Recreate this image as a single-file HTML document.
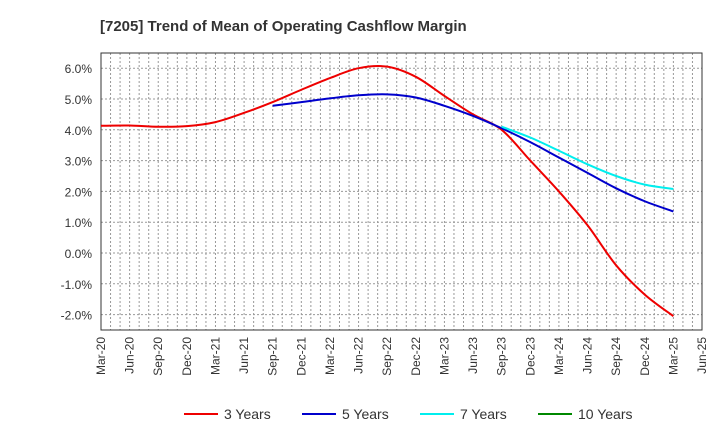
<!DOCTYPE html>
<html><head><meta charset="utf-8"><style>
body{margin:0;background:#fff;font-family:"Liberation Sans",sans-serif}
</style></head><body>
<svg id="c" width="720" height="440" style="position:absolute;left:0;top:0"></svg>
<script>
const quarters=["Mar-20","Jun-20","Sep-20","Dec-20","Mar-21","Jun-21","Sep-21","Dec-21","Mar-22","Jun-22","Sep-22","Dec-22","Mar-23","Jun-23","Sep-23","Dec-23","Mar-24","Jun-24","Sep-24","Dec-24","Mar-25","Jun-25"];
const yTicks=[6,5,4,3,2,1,0,-1,-2];
const y3=[4.13,4.14,4.1,4.12,4.25,4.55,4.9,5.3,5.68,6.0,6.05,5.72,5.1,4.5,4.0,3.0,2.0,0.9,-0.4,-1.35,-2.05];
const y5Start=6;
const y5=[4.78,4.9,5.02,5.12,5.15,5.05,4.78,4.45,4.05,3.6,3.1,2.6,2.1,1.68,1.35];
const y7Start=14;
const y7=[4.1,3.75,3.32,2.88,2.5,2.22,2.08];
const y10=[];
const NS="http://www.w3.org/2000/svg",svg=document.getElementById('c');
const L=101,R=702,T=53,B=330;
const xs=i=>L+i*(R-L)/21;
const ys=v=>253-v*30.8;
function el(t,a,p){const e=document.createElementNS(NS,t);for(const k in a)e.setAttribute(k,a[k]);(p||svg).appendChild(e);return e;}
const title=el('text',{x:100,y:31,'font-size':15,'font-weight':'bold',fill:'#333'});title.textContent="[7205]  Trend of Mean of Operating Cashflow Margin";


for(let m=1;m<63;m++){const x=L+m*(R-L)/63;const g=el('line',{x1:x,x2:x,y1:T,y2:B,stroke:'#999','stroke-dasharray':'2,2','stroke-width':1});

}
yTicks.forEach(v=>{const y=ys(v);const g=el('line',{x1:L,x2:R,y1:y,y2:y,stroke:'#999','stroke-dasharray':'2,2'});


const t=el('text',{x:92,y:y+5,'font-size':12,fill:'#333','text-anchor':'end'});t.textContent=v.toFixed(1)+"%";

});
quarters.forEach((q,i)=>{const x=xs(i);const t=el('text',{x:0,y:0,'font-size':12,fill:'#333','text-anchor':'end',transform:`translate(${x+4},337) rotate(-90)`});t.textContent=q;

});
const f=el('rect',{x:L,y:T,width:R-L,height:B-T,fill:'none',stroke:'#333'});


function path(vals,start){const p=vals.map((v,i)=>[xs(start+i),ys(v)]);let d=`M${p[0][0]},${p[0][1]}`;
for(let i=0;i<p.length-1;i++){const p0=p[i-1]||p[i],p1=p[i],p2=p[i+1],p3=p[i+2]||p2;
d+=` C${p1[0]+(p2[0]-p0[0])/6},${p1[1]+(p2[1]-p0[1])/6} ${p2[0]-(p3[0]-p1[0])/6},${p2[1]-(p3[1]-p1[1])/6} ${p2[0]},${p2[1]}`;}return d;}
const s3=el('path',{d:path(y3,0),fill:'none',stroke:'#e00',"stroke-width":2});


const s5=el('path',{d:path(y5,y5Start),fill:'none',stroke:'#00c',"stroke-width":2});


const s7=el('path',{d:path(y7,y7Start),fill:'none',stroke:'#0ee',"stroke-width":2});


const leg=[["3 Years","#e00",184],["5 Years","#00c",302],["7 Years","#0ee",420],["10 Years","#080",538]];
leg.forEach(([n,c,x])=>{const g=el('g',{});


el('line',{x1:x,x2:x+34,y1:414,y2:414,stroke:c,'stroke-width':2},g);
const t=el('text',{x:x+40,y:419,'font-size':14,fill:'#333'},g);t.textContent=n;});
</script>
</body></html>
